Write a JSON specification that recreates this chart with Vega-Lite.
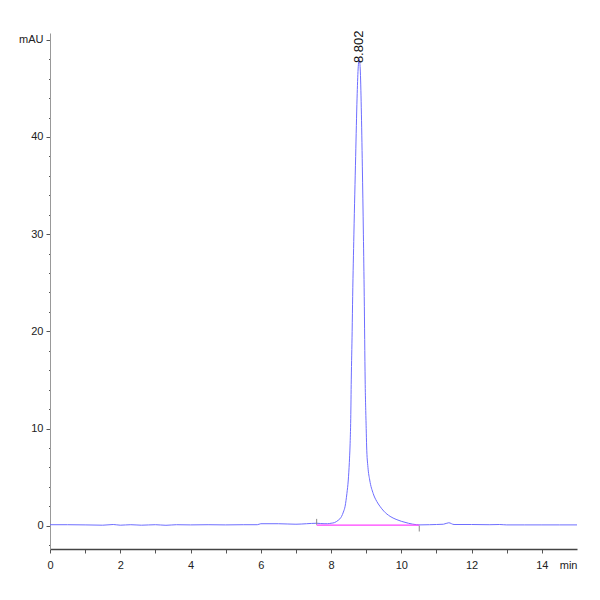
{
  "$schema": "https://vega.github.io/schema/vega-lite/v6.json",
  "description": "HPLC chromatogram, single peak at 8.802 min",
  "autosize": "none",
  "width": 527,
  "height": 516,
  "padding": {"left": 50, "top": 33, "right": 23, "bottom": 51},
  "config": {
    "view": {"stroke": null},
    "font": "Liberation Sans",
    "axis": {"grid": false, "labelFont": "Liberation Sans", "labelFontSize": 11, "labelColor": "#222", "tickColor": "#555", "tickWidth": 1}
  },
  "datasets": {
    "trace": [
      {"t": 0.0, "v": 0.1}, {"t": 0.5, "v": 0.1}, {"t": 1.0, "v": 0.08}, {"t": 1.5, "v": 0.05},
      {"t": 1.8, "v": 0.12}, {"t": 2.0, "v": 0.05}, {"t": 2.3, "v": 0.1}, {"t": 2.6, "v": 0.05},
      {"t": 3.0, "v": 0.1}, {"t": 3.3, "v": 0.04}, {"t": 3.6, "v": 0.1}, {"t": 4.0, "v": 0.08},
      {"t": 4.5, "v": 0.1}, {"t": 5.0, "v": 0.08}, {"t": 5.5, "v": 0.1}, {"t": 5.9, "v": 0.1},
      {"t": 6.0, "v": 0.2}, {"t": 6.5, "v": 0.2}, {"t": 7.0, "v": 0.15}, {"t": 7.3, "v": 0.2},
      {"t": 7.59, "v": 0.25}, {"t": 7.8, "v": 0.2}, {"t": 7.9, "v": 0.2}, {"t": 8.0, "v": 0.25},
      {"t": 8.1, "v": 0.32}, {"t": 8.16, "v": 0.44}, {"t": 8.2, "v": 0.55}, {"t": 8.25, "v": 0.7},
      {"t": 8.3, "v": 0.96}, {"t": 8.35, "v": 1.4}, {"t": 8.4, "v": 2.0}, {"t": 8.45, "v": 3.3},
      {"t": 8.49, "v": 4.7}, {"t": 8.52, "v": 6.5}, {"t": 8.54, "v": 8.2}, {"t": 8.56, "v": 11},
      {"t": 8.575, "v": 15}, {"t": 8.6, "v": 20}, {"t": 8.615, "v": 23.6}, {"t": 8.65, "v": 30},
      {"t": 8.7, "v": 38}, {"t": 8.74, "v": 44}, {"t": 8.77, "v": 47}, {"t": 8.802, "v": 48},
      {"t": 8.83, "v": 47}, {"t": 8.86, "v": 43}, {"t": 8.89, "v": 37}, {"t": 8.92, "v": 30},
      {"t": 8.944, "v": 23.6}, {"t": 8.97, "v": 15}, {"t": 9.0, "v": 10}, {"t": 9.012, "v": 8.2},
      {"t": 9.05, "v": 6}, {"t": 9.1, "v": 4.7}, {"t": 9.2, "v": 3.3}, {"t": 9.3, "v": 2.5},
      {"t": 9.39, "v": 2.0}, {"t": 9.5, "v": 1.5}, {"t": 9.68, "v": 0.96}, {"t": 9.85, "v": 0.65},
      {"t": 10.0, "v": 0.45}, {"t": 10.2, "v": 0.25}, {"t": 10.43, "v": 0.1}, {"t": 10.5, "v": 0.08},
      {"t": 10.8, "v": 0.1}, {"t": 11.0, "v": 0.12}, {"t": 11.2, "v": 0.15}, {"t": 11.35, "v": 0.3},
      {"t": 11.5, "v": 0.12}, {"t": 12.0, "v": 0.12}, {"t": 12.5, "v": 0.1}, {"t": 12.8, "v": 0.12},
      {"t": 13.0, "v": 0.08}, {"t": 13.5, "v": 0.08}, {"t": 14.0, "v": 0.08}, {"t": 14.5, "v": 0.08},
      {"t": 15.0, "v": 0.08}
    ],
    "base": [{"t": 7.59, "v": 0.05}, {"t": 10.51, "v": 0.05}],
    "marks": [{"t": 7.59, "v": 0.1, "v2": 0.7}, {"t": 10.51, "v": 0.0, "v2": -0.6}],
    "peak": [{"t": 8.802, "v": 47.6, "label": "8.802"}]
  },
  "layer": [
    {
      "data": {"name": "trace"},
      "mark": {"type": "line", "color": "#6e6eff", "strokeWidth": 1, "interpolate": "monotone"},
      "encoding": {
        "x": {
          "field": "t", "type": "quantitative",
          "scale": {"domain": [0, 15], "nice": false, "zero": false},
          "axis": {
            "title": null,
            "values": [0, 0.5, 1, 1.5, 2, 2.5, 3, 3.5, 4, 4.5, 5, 5.5, 6, 6.5, 7, 7.5, 8, 8.5, 9, 9.5, 10, 10.5, 11, 11.5, 12, 12.5, 13, 13.5, 14, 14.5, 15],
            "tickCount": 200,
            "format": "d",
            "labelExpr": "datum.value == 15 ? 'min' : (datum.value % 2 == 0 ? datum.label : '')",
            "labelAlign": {"condition": {"test": "datum.value == 15", "value": "right"}, "value": "center"},
            "tickOpacity": {"condition": {"test": "datum.value == 15", "value": 0}, "value": 1},
            "tickSize": 4,
            "labelPadding": 6,
            "domainColor": "#444",
            "domainWidth": 1.5,
            "labelFlush": false,
            "labelOverlap": false
          }
        },
        "y": {
          "field": "v", "type": "quantitative",
          "scale": {"domain": [-2.4, 50.7], "nice": false, "zero": false},
          "axis": {
            "title": null,
            "values": [-2, 0, 2, 4, 6, 8, 10, 12, 14, 16, 18, 20, 22, 24, 26, 28, 30, 32, 34, 36, 38, 40, 42, 44, 46, 48, 50],
            "tickCount": 200,
            "format": "d",
            "labelExpr": "datum.value == 50 ? 'mAU' : (datum.value % 10 == 0 ? datum.label : '')",
            "tickSize": {"condition": {"test": "datum.value % 10 == 0", "value": 4}, "value": 1.5},
            "labelPadding": 3,
            "domainColor": "#999",
            "labelFlush": false,
            "labelOverlap": false
          }
        }
      }
    },
    {
      "data": {"name": "base"},
      "mark": {"type": "line", "color": "#ff40ff", "strokeWidth": 1.2},
      "encoding": {
        "x": {"field": "t", "type": "quantitative"},
        "y": {"field": "v", "type": "quantitative"}
      }
    },
    {
      "data": {"name": "marks"},
      "mark": {"type": "rule", "color": "#888", "strokeWidth": 1},
      "encoding": {
        "x": {"field": "t", "type": "quantitative"},
        "y": {"field": "v", "type": "quantitative"},
        "y2": {"field": "v2"}
      }
    },
    {
      "data": {"name": "peak"},
      "mark": {"type": "text", "angle": 270, "align": "left", "baseline": "middle", "fontSize": 13, "font": "Liberation Sans", "color": "#111"},
      "encoding": {
        "x": {"field": "t", "type": "quantitative"},
        "y": {"field": "v", "type": "quantitative"},
        "text": {"field": "label"}
      }
    }
  ]
}
